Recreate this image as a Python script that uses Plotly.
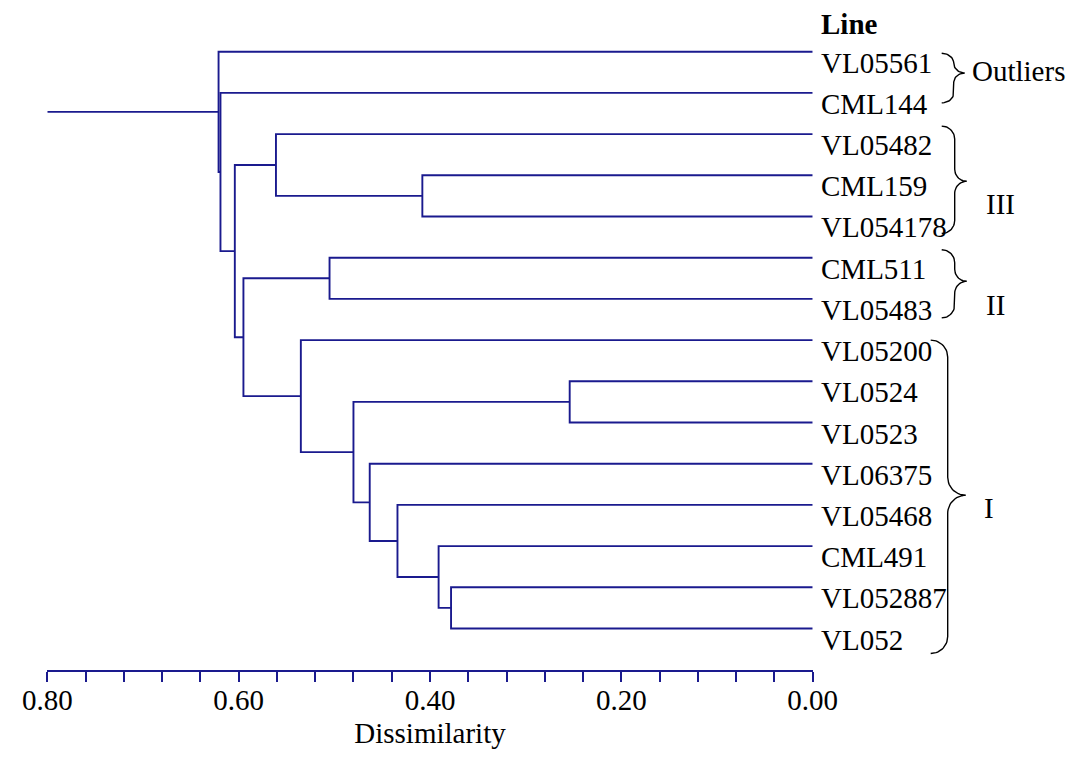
import math
import plotly.graph_objects as go

# ---------------- data ----------------
leaf_labels = ["VL05561", "CML144", "VL05482", "CML159", "VL054178", "CML511",
               "VL05483", "VL05200", "VL0524", "VL0523", "VL06375", "VL05468",
               "CML491", "VL052887", "VL052"]
# linkage: node ids 0..14 are leaves, merge k creates node 15+k
merge_left = [3, 2, 5, 8, 13, 12, 11, 10, 18, 7, 17, 16, 1, 0]
merge_right = [4, 15, 6, 9, 14, 19, 20, 21, 22, 23, 24, 25, 26, 27]
merge_height = [0.408, 0.561, 0.505, 0.254, 0.378, 0.391, 0.434, 0.463,
                0.480, 0.535, 0.595, 0.604, 0.619, 0.621]
root_extent = 0.80

tick_values = [round(0.04 * i, 2) for i in range(21)]
tick_labels = [f"{v:.2f}" if abs(v / 0.2 - round(v / 0.2)) < 1e-9 else "" for v in tick_values]

group_names = ["Outliers", "III", "II", "I"]
group_first = [0, 2, 5, 7]
group_last = [1, 4, 6, 14]

# ---------------- style ----------------
# the page adds an 8px body margin, so the figure is sized to fit inside it
W, H = 1059, 741
LINE_COLOR = "#1a1a8e"
FONT = "Liberation Serif"
FS = 29
X_LEFT_PX, X_RIGHT_PX = 39.3, 804.7
Y_TOP_PX, Y_BOT_PX = 2.5, 661.7        # pixel rows for y=-1 and y=15
Y_RANGE = [15, -1]
PPU = (Y_BOT_PX - Y_TOP_PX) / (Y_RANGE[0] - Y_RANGE[1])  # pixels per leaf unit
RIGHT_W = W - X_RIGHT_PX

# brace styles (pixels on the right-hand panel)
brace_style = [
    dict(x_end=129, x_body=141, x_tip=152, top=-1.6, bot=10, tip=0.7, lx=RIGHT_W, lanchor="right", ldy=1),
    dict(x_end=129, x_body=142, x_tip=154, top=8, bot=17, tip=6, lx=188, lanchor="center", ldy=-29),
    dict(x_end=129, x_body=142, x_tip=154, top=8, bot=19, tip=3, lx=183, lanchor="center", ldy=-27),
    dict(x_end=118, x_body=135, x_tip=153, top=0, bot=25, tip=11, lx=176, lanchor="center", ldy=-24),
]

# ---------------- tree geometry ----------------
n = len(leaf_labels)
node_y = {i: float(i) for i in range(n)}
node_h = {i: 0.0 for i in range(n)}
xs, ys = [], []
for k, (l, r, h) in enumerate(zip(merge_left, merge_right, merge_height)):
    xs += [node_h[l], h, h, node_h[r], None]
    ys += [node_y[l], node_y[l], node_y[r], node_y[r], None]
    node_y[n + k] = (node_y[l] + node_y[r]) / 2
    node_h[n + k] = h
root = n + len(merge_height) - 1
xs += [node_h[root], root_extent, None]
ys += [node_y[root], node_y[root], None]

fig = go.Figure()
fig.add_trace(go.Scatter(x=xs, y=ys, mode="lines", line=dict(color=LINE_COLOR, width=1.9),
                         hoverinfo="skip", showlegend=False, xaxis="x", yaxis="y"))


def arc(n_pts, f):
    return [f(math.pi / 2 * i / (n_pts - 1)) for i in range(n_pts)]


def brace(x_end, x_body, x_tip, y_top, y_tip, y_bot):
    rx_e = x_body - x_end
    rx_t = x_tip - x_body
    half = min(y_tip - y_top, y_bot - y_tip) / 2
    ry_e = min(rx_e / PPU, half)
    ry_t = min(rx_t / PPU, half)
    pts = []
    pts += arc(16, lambda t: (x_end + rx_e * math.sin(t), y_top + ry_e * (1 - math.cos(t))))
    pts += arc(16, lambda t: (x_tip - rx_t * math.cos(t), y_tip - ry_t * (1 - math.sin(t))))
    pts += arc(16, lambda t: (x_tip - rx_t * math.sin(t), y_tip + ry_t * (1 - math.cos(t))))
    pts += arc(16, lambda t: (x_end + rx_e * math.cos(t), y_bot - ry_e + ry_e * math.sin(t)))
    return [p[0] for p in pts], [p[1] for p in pts]


annotations = []
for i, lab in enumerate(leaf_labels):
    annotations.append(dict(x=6, y=i, xref="x2", yref="y", text=lab, showarrow=False,
                            xanchor="left", yanchor="middle", yshift=-11,
                            font=dict(family=FONT, size=FS, color="black")))
annotations.append(dict(x=6, y=0, xref="x2", yref="y", text="<b>Line</b>", showarrow=False,
                        xanchor="left", yanchor="middle", yshift=27.5,
                        font=dict(family=FONT, size=FS, color="black")))

for name, f, l, st in zip(group_names, group_first, group_last, brace_style):
    y_top = f - st["top"] / PPU
    y_bot = l + st["bot"] / PPU
    y_tip = (f + l) / 2 + st["tip"] / PPU
    bx, by = brace(st["x_end"], st["x_body"], st["x_tip"], y_top, y_tip, y_bot)
    fig.add_trace(go.Scatter(x=bx, y=by, mode="lines", line=dict(color="black", width=1.4),
                             hoverinfo="skip", showlegend=False, xaxis="x2", yaxis="y"))
    annotations.append(dict(x=st["lx"], y=(f + l) / 2, xref="x2", yref="y", text=name,
                            showarrow=False, xanchor=st["lanchor"], yanchor="middle",
                            yshift=st["ldy"], font=dict(family=FONT, size=FS, color="black")))

fig.update_layout(
    width=W, height=H, autosize=False,
    margin=dict(l=0, r=0, t=0, b=0),
    paper_bgcolor="white", plot_bgcolor="white",
    showlegend=False,
    xaxis=dict(domain=[X_LEFT_PX / W, X_RIGHT_PX / W], range=[root_extent, 0], anchor="y",
               showline=True, linecolor=LINE_COLOR, linewidth=1.9,
               ticks="outside", ticklen=10, tickwidth=1.6, tickcolor=LINE_COLOR,
               tickmode="array", tickvals=tick_values, ticktext=tick_labels,
               ticklabelstandoff=-6,
               showgrid=False, zeroline=False, automargin=False,
               tickfont=dict(family=FONT, size=FS, color="black"),
               title=dict(text="Dissimilarity", font=dict(family=FONT, size=FS, color="black"),
                          standoff=14)),
    xaxis2=dict(domain=[X_RIGHT_PX / W, 1], range=[0, RIGHT_W], anchor="y",
                visible=False, automargin=False),
    yaxis=dict(domain=[(H - Y_BOT_PX) / H, (H - Y_TOP_PX) / H], range=Y_RANGE, anchor="x",
               visible=False, automargin=False),
    annotations=annotations,
)

fig.write_html("out.html")
